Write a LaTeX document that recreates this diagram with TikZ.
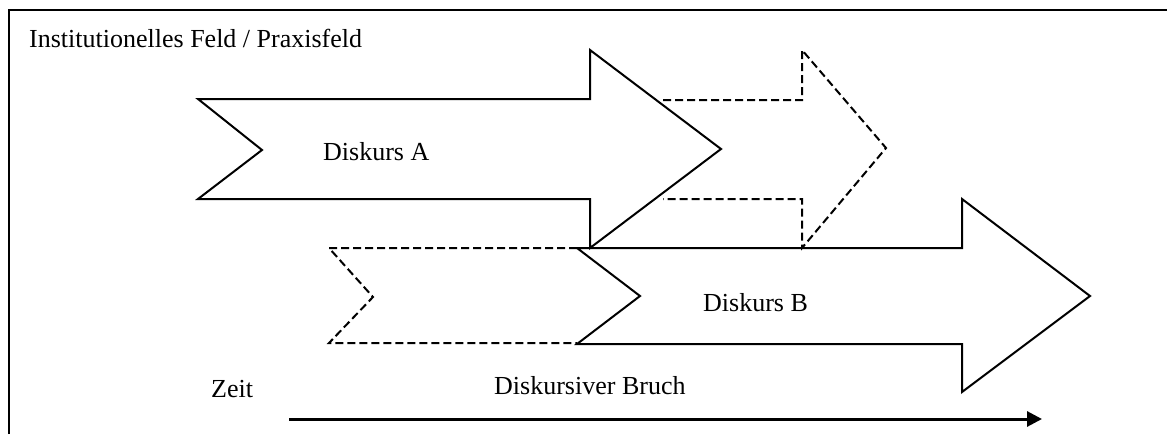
\documentclass[tikz,border=0pt]{standalone}
\usepackage{fontspec}
\setmainfont{Liberation Serif}
\usetikzlibrary{arrows.meta}
\begin{document}
\begin{tikzpicture}[x=1pt,y=-1pt,
  lbl/.style={font=\fontsize{26}{30}\selectfont, inner sep=0pt, anchor=base west},
  solidarrow/.style={draw=black, line width=2pt, line join=miter},
  dasharrow/.style={draw=black, line width=2pt, dash pattern=on 8pt off 4pt},
  frameline/.style={draw=black, line width=2.6pt},
  timeline/.style={draw=black, line width=3pt, -{Triangle[length=15pt,width=15pt]}}]
\useasboundingbox (0,0) rectangle (1167,434);
% frame
\draw[frameline] (9,434) -- (9,10) -- (1167,10);
% dashed continuation of A
\draw[dasharrow] (663,100) -- (802,100) -- (802,50) -- (886,148) -- (802,248) -- (802,199) -- (663,199);
% dashed tail of B
\draw[dasharrow] (577,248) -- (329,248) -- (373,297) -- (329,343) -- (577,343);
% arrow A
\draw[solidarrow] (198,99) -- (590,99) -- (590,50) -- (721,149) -- (590,248) -- (590,199) -- (198,199) -- (262,150) -- cycle;
% arrow B
\draw[solidarrow] (577,248) -- (962,248) -- (962,199) -- (1090,296) -- (962,392) -- (962,344) -- (577,344) -- (640,296) -- cycle;
% labels
\node[lbl] (field) at (29,47) {Institutionelles Feld / Praxisfeld};
\node[lbl] (dA) at (323,160) {Diskurs A};
\node[lbl] (dB) at (703,311) {Diskurs B};
\node[lbl] (zeit) at (211,397) {Zeit};
\node[lbl] (bruch) at (494,394) {Diskursiver Bruch};
% time arrow
\coordinate (tstart) at (289,419);
\coordinate (tend) at (1042,419);
\draw[timeline] (tstart) -- (tend);
\end{tikzpicture}
\end{document}
